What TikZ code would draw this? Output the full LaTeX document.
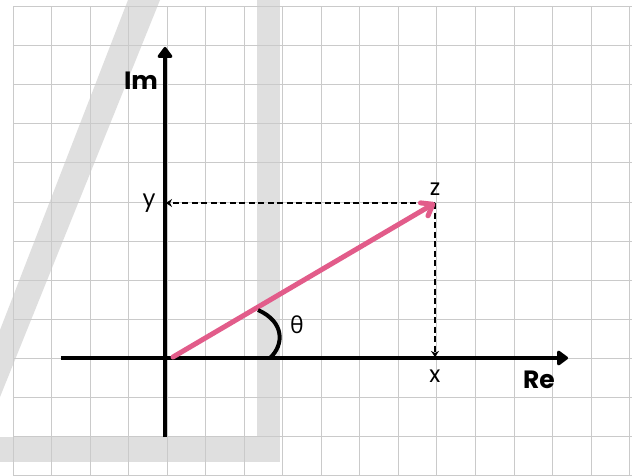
\documentclass[tikz,border=0pt]{standalone}
\usepackage{fontspec}
\setmainfont{Poppins}
\newfontfamily\thetafont{Open Sans}
\usetikzlibrary{arrows.meta}
\definecolor{gridc}{RGB}{202,202,202}
\definecolor{wm}{RGB}{223,223,223}
\definecolor{pinkv}{RGB}{226,92,138}
\begin{document}
\begin{tikzpicture}[x=1pt,y=-1pt,
  gridline/.style={gridc, line width=1pt},
  axis/.style={black, line width=4pt, -{Triangle[length=12pt,width=17pt,round]}},
  vec/.style={pinkv, line width=5pt, line cap=round, -{Straight Barb[length=10pt,width=15pt,round]}},
  dashline/.style={black, line width=2.2pt, dash pattern=on 6pt off 3.5pt, -{Stealth[length=6pt,width=8pt]}},
  lab/.style={inner sep=0pt, font=\fontsize{23}{23}\selectfont},
  boldlab/.style={inner sep=0pt, font=\fontsize{25}{25}\selectfont\bfseries}]
\useasboundingbox (0,0) rectangle (632,476);
\fill[white] (0,0) rectangle (632,476);
% watermark
\fill[wm] (128,0) -- (160,0) -- (0,397) -- (0,330) -- cycle;
\fill[wm] (257,0) rectangle (280,462);
\fill[wm] (0,437) rectangle (280,462);
% grid
\foreach \i in {0,...,16} \draw[gridline] ({13+38.54*\i},7) -- ({13+38.54*\i},476);
\foreach \j in {0,...,12} \draw[gridline] (13,{7+39*\j}) -- (632,{7+39*\j});
% coordinates
\coordinate (imTop) at (165,47);
\coordinate (imBot) at (165,437);
\coordinate (reL) at (61,358);
\coordinate (reR) at (568,358);
\coordinate (P0) at (173,357);
\coordinate (Z) at (435,203);
\coordinate (Yp) at (166,203);
\coordinate (Xp) at (435,357);
\coordinate (arcA) at (258,310);
\coordinate (arcB) at (270,358);
% axes
\draw[axis] (imBot) -- (imTop);
\draw[axis] (reL) -- (reR);
% dashed projections
\draw[dashline] (Z) -- (Yp);
\draw[dashline] (Z) -- (Xp);
% vector
\draw[vec] (P0) -- (Z);
% angle
\draw[black, line width=4pt] (arcA) .. controls (285,322) and (284,345) .. (arcB);
% labels
\node[boldlab] (Im) at (141,81) {Im};
\node[boldlab] (Re) at (539,380) {Re};
\node[lab] (ylab) at (149,203) {y};
\node[lab] (zlab) at (435,189) {z};
\node[lab] (xlab) at (435,376) {x};
\node[inner sep=0pt, font=\fontsize{23}{23}\selectfont\thetafont] (th) at (297,325) {θ};
\end{tikzpicture}
\end{document}
